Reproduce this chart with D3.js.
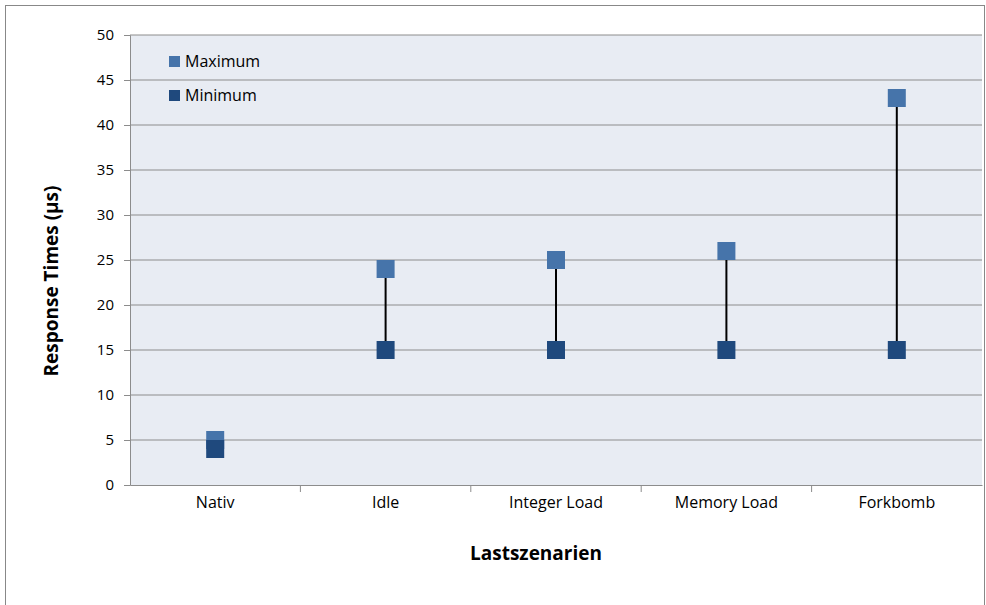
<!DOCTYPE html>
<html>
<head>
<meta charset="utf-8">
<script src="https://cdn.jsdelivr.net/npm/d3@7"></script>
<style>
  body { margin: 0; background: #fff; }
  svg text { font-family: "Open Sans", "Noto Sans", sans-serif; fill: #000; }
</style>
</head>
<body>
<svg id="chart" width="986" height="605"></svg>
<script>
let categories = ["Nativ", "Idle", "Integer Load", "Memory Load", "Forkbomb"];
let maxValues = [5, 24, 25, 26, 43];
let minValues = [4, 15, 15, 15, 15];
let yTicks = [0, 5, 10, 15, 20, 25, 30, 35, 40, 45, 50];

let svg = d3.select("#chart");
let pl = 130, pt = 35, pr = 4, pb = 120;
let w = 986 - pl - pr, h = 605 - pt - pb;

// outer frame
svg.append("rect")
    .attr("x", 5.5).attr("y", 5.5)
    .attr("width", 979).attr("height", 640)
    .style("fill", "none").style("stroke", "#888");

let g = svg.append("g").attr("transform", "translate(" + pl + "," + pt + ")");

let x = d3.scaleBand().domain(categories).range([0, w]);
let y = d3.scaleLinear().domain([0, 50]).range([h, 0]);

g.append("rect")
    .attr("width", w).attr("height", h)
    .style("fill", "#e8ecf3");

// gridlines
g.selectAll("line.grid")
    .data(yTicks.slice(1))
    .enter().append("line")
    .attr("class", "grid")
    .attr("x1", 0).attr("x2", w)
    .attr("y1", d => y(d)).attr("y2", d => y(d))
    .style("stroke", "#8c8c8c").style("stroke-width", 1);

// y axis
let yAxis = g.append("g")
    .call(d3.axisLeft(y).tickValues(yTicks).tickSize(6).tickPadding(10));
yAxis.selectAll("text").style("font-size", "15px");

// x axis with ticks at band edges
let xAxis = g.append("g")
    .attr("transform", "translate(0," + h + ")")
    .call(d3.axisBottom(x).tickSize(0).tickPadding(12));
xAxis.selectAll("text").style("font-size", "16px");
xAxis.selectAll("line.sep")
    .data(categories.slice(1))
    .enter().append("line")
    .attr("class", "sep")
    .attr("x1", d => x(d)).attr("x2", d => x(d))
    .attr("y1", 0).attr("y2", 7)
    .style("stroke", "#8c8c8c");

[yAxis, xAxis].forEach(a => {
    a.select(".domain").style("stroke", "#8c8c8c");
    a.selectAll(".tick line").style("stroke", "#8c8c8c");
});

// connector lines
let cx = d => x(d) + x.bandwidth() / 2;
g.selectAll("line.hilo")
    .data(categories)
    .enter().append("line")
    .attr("class", "hilo")
    .attr("x1", cx).attr("x2", cx)
    .attr("y1", (d, i) => y(maxValues[i]))
    .attr("y2", (d, i) => y(minValues[i]))
    .style("stroke", "#000").style("stroke-width", 2);

let ms = 18;
g.selectAll("rect.max")
    .data(categories)
    .enter().append("rect")
    .attr("class", "max")
    .attr("x", d => cx(d) - ms / 2)
    .attr("y", (d, i) => y(maxValues[i]) - ms / 2)
    .attr("width", ms).attr("height", ms)
    .style("fill", "#4674aa");

// minimum drawn on top (visible at Nativ overlap)
g.selectAll("rect.min")
    .data(categories)
    .enter().append("rect")
    .attr("class", "min")
    .attr("x", d => cx(d) - ms / 2)
    .attr("y", (d, i) => y(minValues[i]) - ms / 2)
    .attr("width", ms).attr("height", ms)
    .style("fill", "#1f497d");

// legend
let legend = [["Maximum", "#4674aa"], ["Minimum", "#1f497d"]];
let lg = svg.append("g").attr("transform", "translate(169,56)");
legend.forEach((l, i) => {
    lg.append("rect").attr("x", 0).attr("y", i * 34).attr("width", 11).attr("height", 11).style("fill", l[1]);
    lg.append("text").attr("x", 16).attr("y", i * 34 + 11).style("font-size", "16px").text(l[0]);
});

// axis titles
svg.append("text")
    .attr("transform", "translate(58," + (pt + h / 2 + 21) + ") rotate(-90)")
    .attr("text-anchor", "middle")
    .style("font-size", "19px").style("font-weight", "bold")
    .text("Response Times (µs)");
svg.append("text")
    .attr("x", 536).attr("y", 560)
    .attr("text-anchor", "middle")
    .style("font-size", "19px").style("font-weight", "bold")
    .text("Lastszenarien");
</script>
</body>
</html>
